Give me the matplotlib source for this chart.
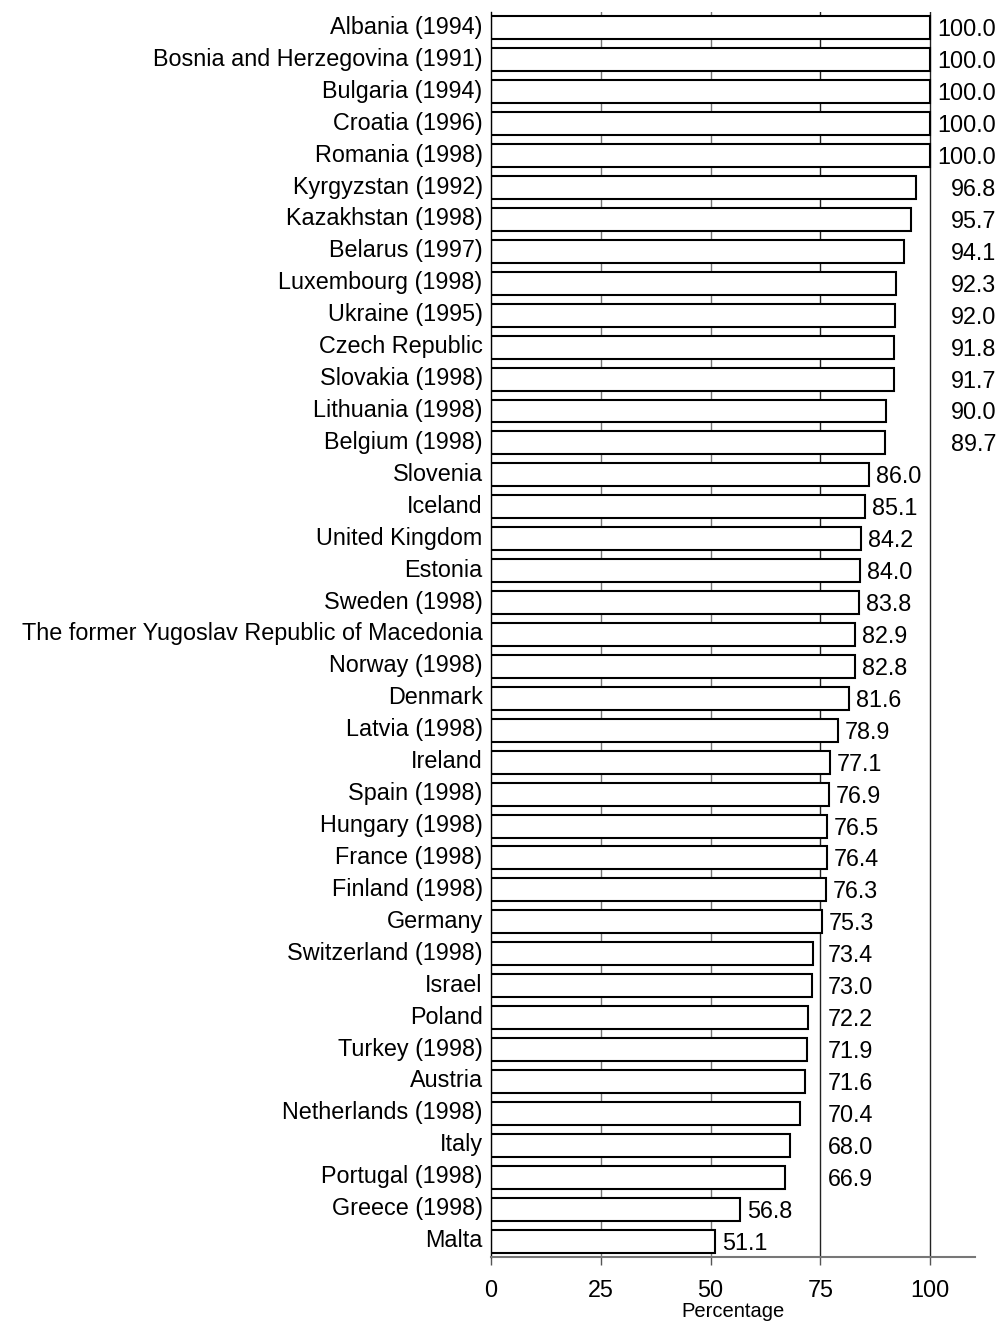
import matplotlib
matplotlib.use("Agg")
import matplotlib.pyplot as plt
import matplotlib.transforms as mtrans

plt.rcParams['font.family'] = ['Liberation Sans', 'DejaVu Sans']

countries = [
    "Albania (1994)", "Bosnia and Herzegovina (1991)", "Bulgaria (1994)",
    "Croatia (1996)", "Romania (1998)", "Kyrgyzstan (1992)", "Kazakhstan (1998)",
    "Belarus (1997)", "Luxembourg (1998)", "Ukraine (1995)", "Czech Republic",
    "Slovakia (1998)", "Lithuania (1998)", "Belgium (1998)", "Slovenia",
    "Iceland", "United Kingdom", "Estonia", "Sweden (1998)",
    "The former Yugoslav Republic of Macedonia", "Norway (1998)", "Denmark",
    "Latvia (1998)", "Ireland", "Spain (1998)", "Hungary (1998)",
    "France (1998)", "Finland (1998)", "Germany", "Switzerland (1998)",
    "Israel", "Poland", "Turkey (1998)", "Austria", "Netherlands (1998)",
    "Italy", "Portugal (1998)", "Greece (1998)", "Malta",
]
values = [
    100.0, 100.0, 100.0, 100.0, 100.0, 96.8, 95.7, 94.1, 92.3, 92.0,
    91.8, 91.7, 90.0, 89.7, 86.0, 85.1, 84.2, 84.0, 83.8, 82.9,
    82.8, 81.6, 78.9, 77.1, 76.9, 76.5, 76.4, 76.3, 75.3, 73.4,
    73.0, 72.2, 71.9, 71.6, 70.4, 68.0, 66.9, 56.8, 51.1,
]
xticks = [0, 25, 50, 75, 100]

FS = 16.8

fig = plt.figure(figsize=(10, 13.25), dpi=100)
ax = fig.add_axes([0.491, 0.0513, 0.484, 0.9397])

pos = list(range(len(countries)))

# vertical grid lines behind the bars
for g in xticks[1:]:
    col = '#777777' if g < 75 else '#222222'
    ax.axvline(g, color=col, lw=1.0, zorder=0)

ax.barh(pos, values, height=0.72, color='white', edgecolor='black',
        linewidth=1.5, zorder=2)

# value labels, moved past a grid line when they would cross it
val_tr = ax.transData + mtrans.ScaledTranslation(0, -2 / 100, fig.dpi_scale_trans)
pad, wid = 1.6, 10.0
for y, v in zip(pos, values):
    txt = f"{v:.1f}"
    if v + pad + wid > 100:
        ax.text(115.0, y, txt, ha='right', va='center', fontsize=FS,
                clip_on=False, transform=val_tr)
    elif v < 75 and v + pad + wid > 75:
        ax.text(75 + pad, y, txt, ha='left', va='center', fontsize=FS, transform=val_tr)
    else:
        ax.text(v + pad, y, txt, ha='left', va='center', fontsize=FS, transform=val_tr)

ax.set_xlim(0, 110.2)
ax.set_ylim(len(countries) - 0.5, -0.5)
ax.set_yticks(pos)
ax.set_yticklabels(countries, fontsize=FS)
ax.tick_params(axis='y', length=0, pad=6)
lab_off = mtrans.ScaledTranslation(0, 3 / 100, fig.dpi_scale_trans)
for lab in ax.get_yticklabels():
    lab.set_transform(lab.get_transform() + lab_off)

ax.set_xticks(xticks)
ax.set_xticklabels([str(t) for t in xticks], fontsize=FS)
ax.tick_params(axis='x', length=6, width=1.0, color='#555555', pad=10)

for s in ['top', 'right']:
    ax.spines[s].set_visible(False)
ax.spines['left'].set_color('black')
ax.spines['left'].set_linewidth(1.0)
ax.spines['bottom'].set_color('#777777')
ax.spines['bottom'].set_linewidth(1.5)

ax.set_xlabel("Percentage", fontsize=14.5, labelpad=0)

fig.savefig("out.png", dpi=100)
